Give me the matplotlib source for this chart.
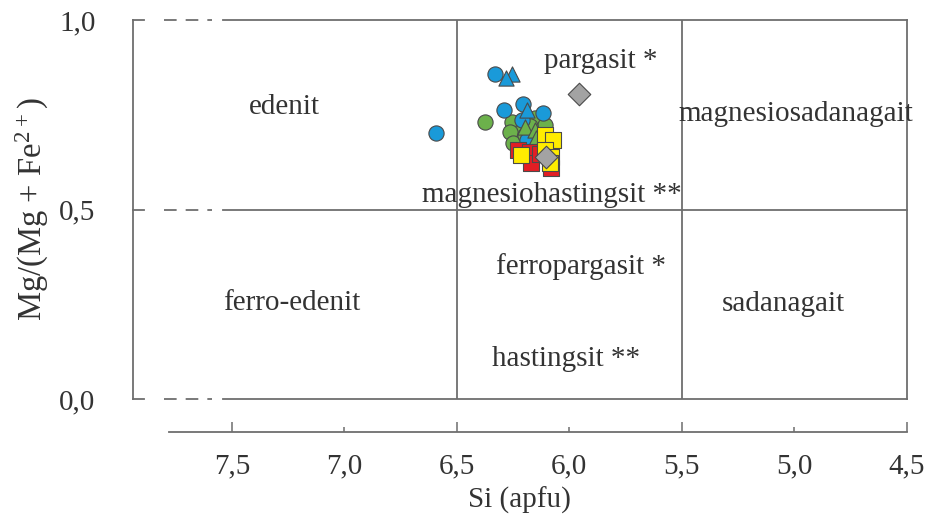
import matplotlib.pyplot as plt
import numpy as np

plt.rcParams['font.family'] = ['Liberation Serif', 'DejaVu Serif']
plt.rcParams['mathtext.default'] = 'regular'

# Si (apfu) / Mg/(Mg+Fe2+) of the analysed amphiboles
blue_circ_si = [6.594, 6.330, 6.290, 6.205, 6.119, 6.212, 6.190]
blue_circ_mg = [0.702, 0.859, 0.764, 0.778, 0.756, 0.736, 0.683]
green_circ_si = [6.375, 6.257, 6.153, 6.109, 6.221, 6.264, 6.250, 6.198, 6.123, 6.174]
green_circ_mg = [0.732, 0.732, 0.741, 0.723, 0.705, 0.705, 0.675, 0.697, 0.692, 0.720]
blue_tri_si = [6.257, 6.280, 6.188]
blue_tri_mg = [0.859, 0.846, 0.762]
green_tri_si = [6.198, 6.153, 6.149]
green_tri_mg = [0.718, 0.710, 0.690]
red_sq_si = [6.228, 6.176, 6.169, 6.080, 6.132]
red_sq_mg = [0.657, 0.652, 0.622, 0.609, 0.648]
yellow_sq_si = [6.109, 6.073, 6.213, 6.109, 6.080, 6.087]
yellow_sq_mg = [0.697, 0.683, 0.644, 0.657, 0.639, 0.622]
grey_dia_si = [5.957, 6.104]
grey_dia_mg = [0.804, 0.638]

fields = ['edenit', 'pargasit *', 'magnesiosadanagait', 'magnesiohastingsit **',
          'ferro-edenit', 'ferropargasit *', 'sadanagait', 'hastingsit **']
field_x = [7.269, 5.860, 4.993, 6.078, 7.233, 5.949, 5.047, 6.016]
field_y = [0.770, 0.892, 0.752, 0.538, 0.253, 0.351, 0.251, 0.105]

xticks = [7.5, 7.0, 6.5, 6.0, 5.5, 5.0, 4.5]
xtick_labels = ['7,5', '7,0', '6,5', '6,0', '5,5', '5,0', '4,5']

lc = '#6e6e6e'
tc = '#333333'
fs = 21

fig = plt.figure(figsize=(9.3, 5.15), dpi=100)
ax = fig.add_axes([0.143, 0.225, 0.832, 0.736])
ax.set_xlim(7.94, 4.5)
ax.set_ylim(0, 1)

# Feldgrenzen
for yy in [0.0, 0.5, 1.0]:
    ax.plot([7.94, 7.89], [yy, yy], color=lc, lw=1.3, clip_on=False)
    ax.plot([7.80, 7.59], [yy, yy], color=lc, lw=1.3, ls=(0, (7, 5)), clip_on=False)
    ax.plot([7.54, 4.5], [yy, yy], color=lc, lw=1.3, clip_on=False)
for xx in [6.5, 5.5]:
    ax.plot([xx, xx], [0, 1], color=lc, lw=1.3)

for t, x, y in zip(fields, field_x, field_y):
    ax.text(x, y, t, ha='center', va='center', fontsize=fs, color=tc, clip_on=False)

ec = '#4a4a4a'
s = 120
ax.scatter(green_circ_si, green_circ_mg, s=s, marker='o', c='#6cb14b', edgecolors=ec, lw=0.8, zorder=3)
ax.scatter(blue_circ_si, blue_circ_mg, s=s, marker='o', c='#1a9ad9', edgecolors=ec, lw=0.8, zorder=4)
ax.scatter(blue_tri_si, blue_tri_mg, s=s, marker='^', c='#1a9ad9', edgecolors=ec, lw=0.8, zorder=4)
ax.scatter(green_tri_si, green_tri_mg, s=s, marker='^', c='#6cb14b', edgecolors=ec, lw=0.8, zorder=4)
ax.scatter(red_sq_si, red_sq_mg, s=s, marker='s', c='#e31e24', edgecolors=ec, lw=0.8, zorder=5)
ax.scatter(yellow_sq_si, yellow_sq_mg, s=s, marker='s', c='#ffec00', edgecolors=ec, lw=0.8, zorder=6)
ax.scatter(grey_dia_si, grey_dia_mg, s=s * 1.1, marker='D', c='#a3a3a3', edgecolors=ec, lw=0.8, zorder=7)

ax.spines['top'].set_visible(False)
for sp in ['left', 'right', 'bottom']:
    ax.spines[sp].set_color(lc)
    ax.spines[sp].set_linewidth(1.3)
ax.spines['bottom'].set_position(('outward', 24))
ax.spines['bottom'].set_bounds(7.78, 4.5)

ax.set_xticks(xticks)
ax.set_xticklabels(xtick_labels, fontsize=fs, color=tc)
ax.tick_params(axis='x', direction='in', length=7.3, width=1.1, color=lc, pad=15)
for i, tk in enumerate(ax.xaxis.get_major_ticks()):
    if i % 2 == 1:
        tk.tick1line.set_markersize(3.6)

ax.set_yticks([0.0, 0.5, 1.0])
ax.set_yticklabels(['0,0', '0,5', '1,0'], fontsize=fs, color=tc)
ax.tick_params(axis='y', length=0, pad=27)

ax.set_xlabel('Si (apfu)', fontsize=fs, color=tc, labelpad=5)
ax.set_ylabel('Mg/(Mg + Fe$^{2+}$)', fontsize=23.5, color=tc, labelpad=6)

plt.savefig('out.png', dpi=100)
